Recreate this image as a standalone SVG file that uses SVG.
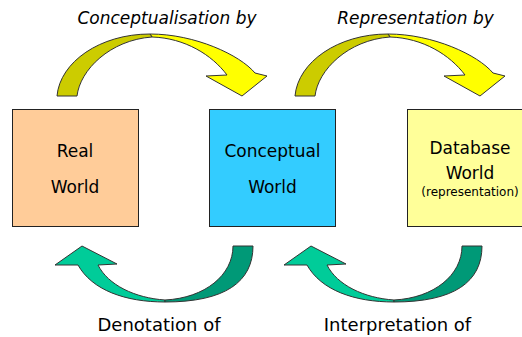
<svg xmlns="http://www.w3.org/2000/svg" width="522" height="337" viewBox="0 0 522 337">
  <style>
    .box { stroke: #222; stroke-width: 1; }
    .name { font-family: "DejaVu Sans", Verdana, sans-serif; font-size: 17px; fill: #000; text-anchor: middle; }
    .small { font-family: "DejaVu Sans", Verdana, sans-serif; font-size: 12px; fill: #000; text-anchor: middle; }
    .top-label { font-family: "DejaVu Sans", Verdana, sans-serif; font-size: 17px; font-style: italic; fill: #000; text-anchor: middle; }
    .bottom-label { font-family: "DejaVu Sans", Verdana, sans-serif; font-size: 18px; fill: #000; text-anchor: middle; }
    .edge { stroke: #333; stroke-width: 1; stroke-linejoin: round; }
    .y-dark { fill: #CCCC00; }
    .y-light { fill: #FFFF00; }
    .g-dark { fill: #009977; }
    .g-light { fill: #00CC99; }
  </style>
  <defs>
    <!-- curved arrow pointing right/down, drawn over the boxes -->
    <g id="arrow-over">
      <path class="edge y-light" d="M150,34 C195,34 240,55 255,73 L267,76 L242,96 L206,76 L227,75 C212,55 185,38 152,37 Z"/>
      <path class="edge y-dark" d="M57,96 C60,62 100,34 150,34 L152,37 C110,40 80,70 77,96 Z"/>
    </g>
    <!-- curved arrow pointing left/up, drawn under the boxes -->
    <g id="arrow-under">
      <path class="edge g-light" d="M165,302 C125,302 92,290 78,265 L55,265 L82,246 L117,264 L98,265 C108,285 135,298 165,300 Z"/>
      <path class="edge g-dark" d="M253,246 C253,282 225,302 165,302 L165,300 C205,298 233,275 233,246 Z"/>
    </g>
  </defs>

  <g id="real-world">
    <rect class="box" x="12.5" y="109.5" width="126" height="117" fill="#FFCC99"/>
    <text class="name" x="75" y="157">Real</text>
    <text class="name" x="75" y="193">World</text>
  </g>

  <g id="conceptual-world">
    <rect class="box" x="209.5" y="109.5" width="126" height="117" fill="#33CCFF"/>
    <text class="name" x="272.5" y="157">Conceptual</text>
    <text class="name" x="272.5" y="193">World</text>
  </g>

  <g id="database-world">
    <rect class="box" x="407.5" y="109.5" width="126" height="117" fill="#FFFF99"/>
    <text class="name" x="470" y="154">Database</text>
    <text class="name" x="470" y="179">World</text>
    <text class="small" x="470" y="195.5">(representation)</text>
  </g>

  <g id="connectors">
    <g id="conceptualisation">
      <use href="#arrow-over"/>
      <text class="top-label" x="167" y="24">Conceptualisation by</text>
    </g>
    <g id="representation">
      <use href="#arrow-over" transform="translate(238,0)"/>
      <text class="top-label" x="415.5" y="24">Representation by</text>
    </g>
    <g id="denotation">
      <use href="#arrow-under"/>
      <text class="bottom-label" x="159" y="331">Denotation of</text>
    </g>
    <g id="interpretation">
      <use href="#arrow-under" transform="translate(229,0)"/>
      <text class="bottom-label" x="397.5" y="331">Interpretation of</text>
    </g>
  </g>
</svg>
